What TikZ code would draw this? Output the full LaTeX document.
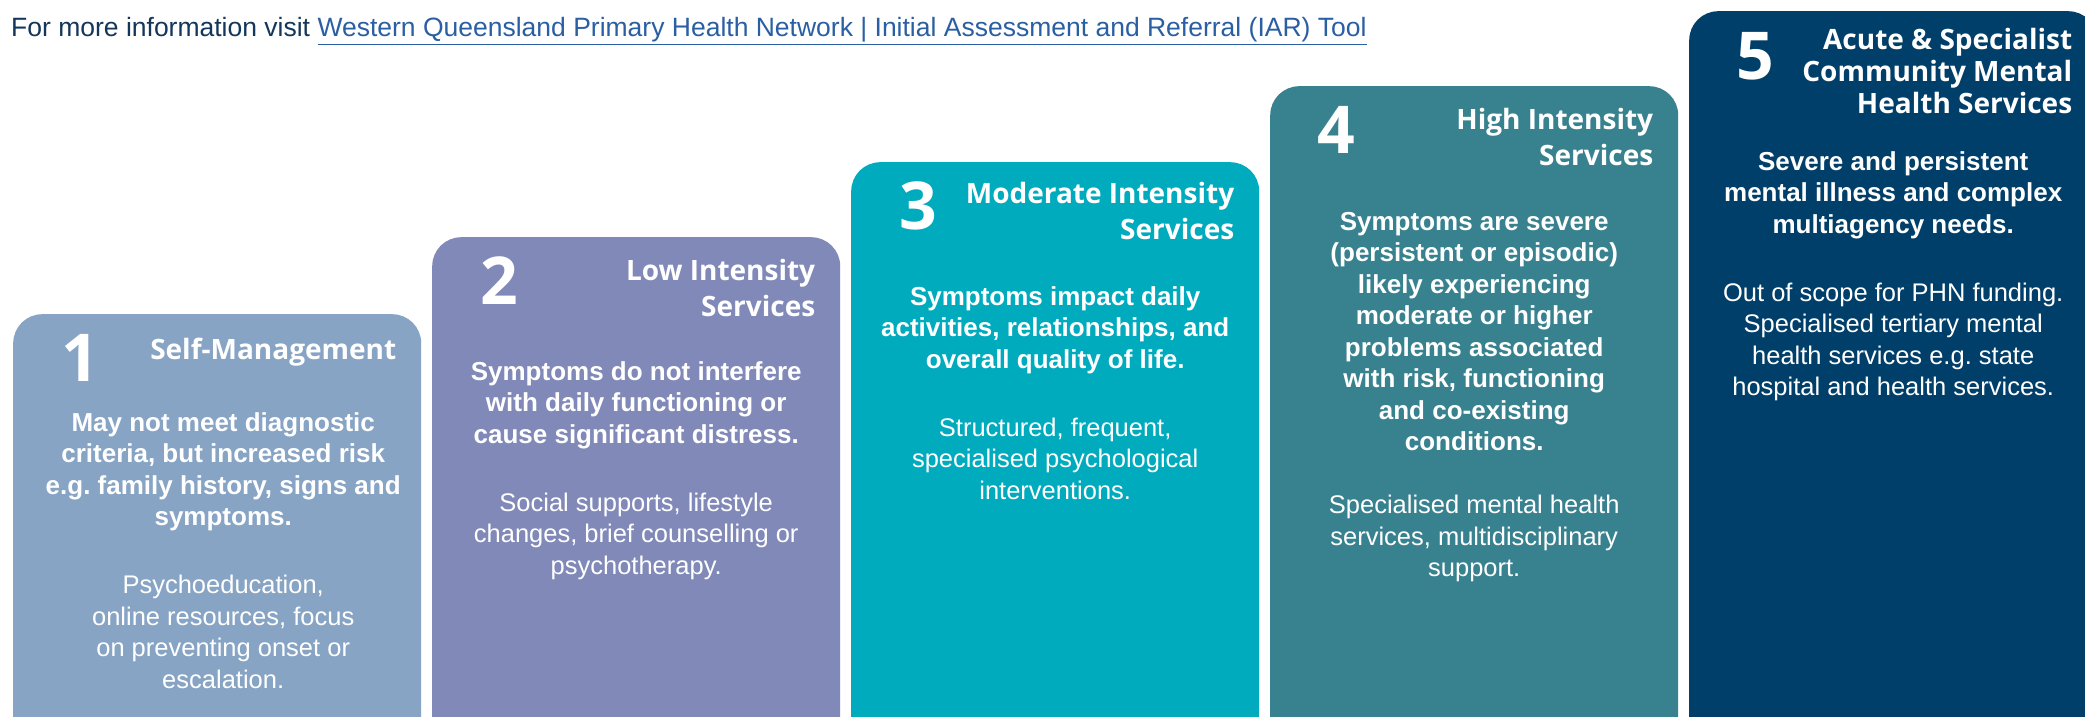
\documentclass[tikz,border=0pt]{standalone}
\usepackage{fontspec}
\setmainfont{Liberation Sans}
\newfontfamily\tierfont{Open Sans}
\usepackage{xcolor}
\usepackage{tikz}
\usetikzlibrary{positioning,calc}
\frenchspacing

\definecolor{tierA}{HTML}{87A4C4}
\definecolor{tierB}{HTML}{8189B8}
\definecolor{tierC}{HTML}{00ABBD}
\definecolor{tierD}{HTML}{388290}
\definecolor{tierE}{HTML}{003F6A}
\definecolor{headnavy}{HTML}{14365B}
\definecolor{linkblue}{HTML}{2A5FA3}

\begin{document}
\begin{tikzpicture}[
    x=1pt, y=1pt,
    tier/.style={anchor=north west, rounded corners=29pt, minimum width=408pt, minimum height=760pt, inner sep=0pt},
    digit/.style={anchor=base, text=white, inner sep=0pt, font=\tierfont\bfseries\fontsize{66}{66}\selectfont},
    tiertitle/.style={anchor=north east, align=right, text=white, inner sep=0pt, font=\tierfont\bfseries\fontsize{28}{36}\selectfont},
    need/.style={anchor=north, align=center, text=white, inner sep=0pt, font=\bfseries\fontsize{26}{31.5}\selectfont},
    care/.style={anchor=north, align=center, text=white, inner sep=0pt, font=\fontsize{25.5}{31.5}\selectfont}
]

% page frame
\useasboundingbox (0,0) rectangle (2085,-717);
\fill[white] (0,0) rectangle (2085,-717);
\clip (0,0) rectangle (2085,-717);

% link line
\node[anchor=base west, inner sep=0pt, text=headnavy, font=\fontsize{26.5}{32}\selectfont] (moreinfo) at (11,-37)
    {For more information visit \textcolor{linkblue}{\underline{Western Queensland Primary Health Network | Initial Assessment and Referral (IAR) Tool}}};

% steps
\node[tier, fill=tierA] (tierA) at (13,-314) {};
\node[tier, fill=tierB] (tierB) at (432,-237) {};
\node[tier, fill=tierC] (tierC) at (851,-162) {};
\node[tier, fill=tierD] (tierD) at (1270,-86) {};
\node[tier, fill=tierE] (tierE) at (1689,-11) {};

% 1 Self-Management
\node[digit] (numA) at ([shift={(67,-67)}]tierA.north west) {1};
\node[tiertitle] (titleA) at ([shift={(-25,-24)}]tierA.north east) {Self-Management};
\node[need, below=98pt of tierA.north, xshift=6pt] (needA) {May not meet diagnostic\\criteria, but increased risk\\e.g. family history, signs and\\symptoms.};
\node[care, below=44pt of needA] (careA) {Psychoeducation,\\online resources, focus\\on preventing onset or\\escalation.};

% 2 Low Intensity
\node[digit] (numB) at ([shift={(67,-67)}]tierB.north west) {2};
\node[tiertitle] (titleB) at ([shift={(-25,-22)}]tierB.north east) {Low Intensity\\Services};
\node[need, below=124pt of tierB.north] (needB) {Symptoms do not interfere\\with daily functioning or\\cause significant distress.};
\node[care, below=44pt of needB] (careB) {Social supports, lifestyle\\changes, brief counselling or\\psychotherapy.};

% 3 Moderate Intensity
\node[digit] (numC) at ([shift={(67,-67)}]tierC.north west) {3};
\node[tiertitle] (titleC) at ([shift={(-25,-20)}]tierC.north east) {Moderate Intensity\\Services};
\node[need, below=124pt of tierC.north] (needC) {Symptoms impact daily\\activities, relationships, and\\overall quality of life.};
\node[care, below=44pt of needC] (careC) {Structured, frequent,\\specialised psychological\\interventions.};

% 4 High Intensity
\node[digit] (numD) at ([shift={(66,-67)}]tierD.north west) {4};
\node[tiertitle] (titleD) at ([shift={(-25,-22)}]tierD.north east) {High Intensity\\Services};
\node[need, below=126pt of tierD.north] (needD) {Symptoms are severe\\(persistent or episodic)\\likely experiencing\\moderate or higher\\problems associated\\with risk, functioning\\and co-existing\\conditions.};
\node[care, below=44pt of needD] (careD) {Specialised mental health\\services, multidisciplinary\\support.};

% 5 Acute & Specialist
\node[digit] (numE) at ([shift={(66,-69)}]tierE.north west) {5};
\node[tiertitle, font=\tierfont\bfseries\fontsize{28}{32}\selectfont] (titleE) at ([shift={(-25,-17)}]tierE.north east) {Acute \& Specialist\\Community Mental\\Health Services};
\node[need, below=140pt of tierE.north] (needE) {Severe and persistent\\mental illness and complex\\multiagency needs.};
\node[care, below=44pt of needE] (careE) {Out of scope for PHN funding.\\Specialised tertiary mental\\health services e.g. state\\hospital and health services.};

\end{tikzpicture}
\end{document}
